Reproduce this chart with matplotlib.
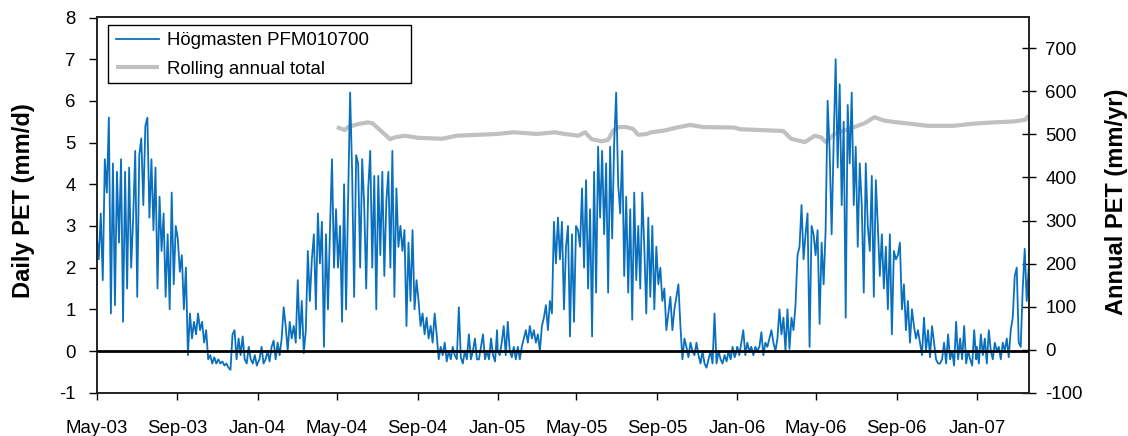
import numpy as np
import pandas as pd
import matplotlib
matplotlib.use("Agg")
import matplotlib.pyplot as plt
from matplotlib.patches import Rectangle

plt.rcParams['font.family'] = ['Liberation Sans', 'DejaVu Sans']

# ---- Daily PET (mm/d), ~3-day resolution ----
pet_2003 = [  # 2003-05-01 .. 2003-12-31
    2.8, 2.2, 3.3, 1.7, 4.6, 3.8, 5.6, 0.9, 4.5, 1.1,
    4.3, 2.6, 4.6, 0.7, 4.3, 1.5, 4.4, 2.0, 3.2, 4.8,
    1.3, 4.7, 5.1, 3.5, 5.4, 5.6, 3.2, 4.6, 2.9, 4.4,
    1.5, 3.7, 2.4, 3.3, 1.3, 2.8, 1.0, 3.8, 1.6, 3.0,
    2.7, 1.9, 2.3, 1.0, 2.0, -0.1, 0.9, 0.3, 0.7, 0.4,
    0.9, 0.5, 0.7, 0.2, 0.5, -0.2, -0.1, -0.3, -0.15, -0.3,
    -0.2, -0.3, -0.25, -0.35, -0.3, -0.4, -0.45, 0.4, 0.5, -0.2,
    0.3, -0.1, 0.35, -0.2, -0.3, 0.1, -0.2, -0.3, -0.1, -0.35]
pet_2004 = [  # 2004-01-01 .. 2004-12-31
    -0.3, -0.2, 0.1, -0.3, -0.2, 0.0, -0.25, 0.1, 0.25, -0.2,
    0.2, -0.1, 0.3, 1.05, 0.6, 0.0, 0.7, 0.3, 0.6, 0.2,
    1.7, 0.3, 1.2, -0.05, 0.5, 2.4, 1.2, 2.2, 2.8, 1.0,
    3.3, 2.1, 3.1, 0.1, 2.8, 1.0, 2.9, 4.6, 2.0, 3.4,
    2.0, 3.0, 0.7, 4.0, 1.0, 3.6, 6.2, 4.3, 1.3, 4.7,
    4.5, 2.0, 4.6, 3.5, 1.5, 3.9, 4.8, 2.0, 4.2, 1.0,
    4.2, 2.3, 4.3, 1.8, 3.6, 4.3, 2.0, 4.8, 1.3, 3.9,
    2.5, 3.0, 2.4, 2.9, 0.6, 2.6, 1.2, 2.9, 1.0, 1.7,
    1.2, 0.6, 0.9, 0.4, 0.8, 0.3, 0.6, 0.2, 0.9, 0.4,
    -0.2, 0.1, -0.1, 0.2, -0.25, 0.0, -0.2, 0.1, -0.1, -0.2,
    1.05, -0.15, -0.3, 0.0, -0.2, 0.4, -0.2, 0.0, 0.3, -0.2,
    -0.2, 0.1, 0.4, -0.2, 0.0, -0.2, 0.3, -0.1, -0.25, 0.5]
pet_2005 = [  # 2005-01-01 .. 2005-12-31
    0.0, -0.1, 0.2, 0.6, -0.1, 0.7, 0.0, -0.15, 0.1, -0.2,
    0.1, -0.2, 0.1, 0.3, 0.5, 0.2, 0.6, 0.3, 0.5, 0.2,
    0.4, 0.0, 0.6, 0.8, 1.1, 0.5, 1.2, 0.9, 3.1, 2.1,
    3.2, 2.2, 3.1, 1.0, 2.5, 3.0, 0.35, 2.8, 0.7, 3.0,
    2.9, 2.5, 3.9, 2.0, 4.1, 1.5, 3.4, 0.35, 4.3, 1.4,
    4.9, 3.2, 4.8, 2.8, 4.5, 1.4, 4.9, 2.7, 5.0, 6.2,
    4.0, 3.3, 4.8, 1.8, 3.7, 1.4, 3.4, 0.75, 3.8, 1.7,
    3.0, 1.5, 3.8, 2.5, 0.9, 3.2, 1.3, 3.0, 1.0, 2.5,
    1.6, 2.0, 1.2, 1.5, 0.5, 0.9, 1.3, 0.5, 1.0, 1.3,
    1.6, 0.6, -0.2, 0.3, 0.1, -0.15, 0.2, 0.0, -0.1, 0.2,
    -0.1, -0.3, 0.0, -0.3, -0.4, -0.2, 0.0, -0.3, 0.9, -0.3,
    0.0, -0.2, -0.3, -0.1, -0.25, 0.0, -0.2, 0.1, -0.15, 0.0]
pet_2006 = [  # 2006-01-01 .. 2006-12-31
    0.1, -0.1, 0.2, 0.5, -0.1, 0.2, 0.0, 0.1, -0.1, 0.1,
    0.0, 0.1, 0.45, -0.1, 0.2, 0.1, 0.3, 0.5, 0.2, 0.0,
    0.3, 1.0, 0.4, 0.8, 0.0, 1.0, 0.05, 0.8, 0.5, 1.1,
    2.3, 2.5, 3.5, 2.2, 2.8, 3.3, 0.1, 3.0, 2.8, 2.3,
    2.9, 0.65, 2.6, 1.6, 2.9, 6.0, 4.8, 2.8, 5.0, 7.0,
    4.4, 6.4, 3.5, 5.5, 0.8, 5.9, 4.5, 6.2, 3.5, 4.9,
    2.5, 4.5, 3.5, 1.4, 4.5, 3.0, 2.4, 4.2, 1.3, 4.1,
    3.0, 1.8, 2.8, 1.5, 2.5, 1.0, 2.8, 0.4, 2.4, 2.2,
    2.3, 2.6, 1.0, 1.6, 0.5, 1.2, 0.2, 1.0, 0.6, 0.3,
    0.5, 0.2, -0.1, 0.8, 0.0, 0.5, -0.15, 0.6, 0.2, -0.2,
    -0.3, -0.3, -0.2, 0.2, -0.3, 0.4, -0.2, 0.0, -0.35, 0.7,
    -0.2, 0.3, -0.2, 0.6, -0.3, 0.0, -0.2, -0.35, 0.5, -0.2]
pet_2007 = [  # 2007-01-01 .. 2007-03-21
    0.1, -0.3, 0.4, -0.1, 0.3, -0.3, 0.5, 0.0, -0.2, 0.2,
    0.0, 0.1, -0.2, 0.2, 0.0, 0.3, -0.15, 0.5, 0.8,
    1.8, 2.0, 0.2, 0.1, 1.5, 2.45, 1.2, 2.0]

segment_starts = ["2003-05-01", "2004-01-01", "2005-01-01", "2006-01-01", "2007-01-01"]
segment_ends = ["2003-12-31", "2004-12-31", "2005-12-31", "2006-12-31", "2007-03-21"]

# ---- Rolling annual total (mm/yr) ----
rolling_dates = [
    "2004-05-01", "2004-05-13", "2004-05-18", "2004-06-02", "2004-06-17", "2004-06-24",
    "2004-07-08", "2004-07-21", "2004-07-28", "2004-08-12", "2004-09-02", "2004-10-08",
    "2004-10-31", "2004-12-31", "2005-01-25", "2005-03-02", "2005-03-29", "2005-04-13",
    "2005-04-24", "2005-05-04", "2005-05-14", "2005-05-24", "2005-06-08", "2005-06-18",
    "2005-06-26", "2005-07-04", "2005-07-16", "2005-07-26", "2005-08-03", "2005-08-16",
    "2005-08-23", "2005-09-12", "2005-09-28", "2005-10-21", "2005-11-11", "2005-12-27",
    "2006-01-06", "2006-03-12", "2006-03-24", "2006-04-14", "2006-04-29", "2006-05-09",
    "2006-05-16", "2006-05-29", "2006-06-13", "2006-06-28", "2006-07-14", "2006-07-29",
    "2006-08-13", "2006-09-02", "2006-09-26", "2006-10-17", "2006-11-27", "2006-12-27",
    "2007-01-27", "2007-02-26", "2007-03-16", "2007-03-21"]
rolling_values = [
    517, 510, 517, 524, 528, 526,
    507, 489, 493, 497, 492, 490,
    497, 501, 505, 501, 505, 501,
    499, 497, 505, 489, 484, 487,
    509, 517, 517, 513, 499, 501,
    505, 509, 515, 522, 517, 516,
    512, 508, 490, 482, 497, 493,
    482, 501, 509, 517, 526, 540,
    532, 528, 524, 520, 520, 525,
    528, 530, 534, 544]

x_tick_dates = pd.date_range("2003-05-01", "2007-01-01", freq="4MS")
left_ticks = list(range(-1, 9))
right_ticks = list(range(-100, 800, 100))

# ---- Build daily series ----
all_dates, all_vals = [], []
for s, e, vals in zip(segment_starts, segment_ends,
                      [pet_2003, pet_2004, pet_2005, pet_2006, pet_2007]):
    t0, t1 = pd.Timestamp(s).value, pd.Timestamp(e).value
    d = pd.to_datetime(np.linspace(t0, t1, len(vals)).astype("int64"))
    all_dates.extend(d)
    all_vals.extend(vals)
pet_dates = pd.DatetimeIndex(all_dates)
pet_vals = np.array(all_vals)

W, H = 1128, 436
fig = plt.figure(figsize=(W / 100, H / 100), dpi=100)
ax = fig.add_axes([96.7 / W, 1 - 392.7 / H, 932 / W, 375.2 / H])
ax2 = ax.twinx()
ax.set_zorder(ax2.get_zorder() + 1)
ax.patch.set_visible(False)

blue = "#0A70BE"
gray = "#C0C0C0"

l1, = ax.plot(pet_dates, pet_vals, color=blue, lw=1.3, zorder=2,
              label="Högmasten PFM010700")
ax.axhline(0, color="black", lw=2.0, zorder=3)
l2, = ax2.plot(pd.to_datetime(rolling_dates), rolling_values, color=gray, lw=3.0,
               solid_capstyle="butt", label="Rolling annual total")

ax.set_xlim(pd.Timestamp("2003-05-01"), pd.Timestamp("2007-03-21"))
ax.set_ylim(-1, 8)
ax2.set_ylim(-100, 771.6)

ax.set_yticks(left_ticks)
ax.set_yticklabels([str(v) for v in left_ticks])
ax2.set_yticks(right_ticks)
ax2.set_yticklabels([str(v) for v in right_ticks])
ax.set_xticks(x_tick_dates)
ax.set_xticklabels([d.strftime("%b-%y") for d in x_tick_dates])

fs = 13.4
ax.tick_params(axis="y", direction="out", length=6, width=1.0, pad=9, labelsize=fs)
ax.tick_params(axis="x", direction="out", length=5, width=1.0, pad=15, labelsize=fs)
ax2.tick_params(axis="y", direction="inout", length=10, width=1.0, pad=7, labelsize=fs)

for a in (ax, ax2):
    for sp in a.spines.values():
        sp.set_linewidth(1.2)
        sp.set_color("#222222")

fig.text(24 / W, 1 - 201 / H, "Daily PET (mm/d)", rotation=90, ha="center",
         va="center", fontsize=17, fontweight="bold")
fig.text(1117 / W, 1 - 202 / H, "Annual PET (mm/yr)", rotation=90, ha="center",
         va="center", fontsize=17, fontweight="bold")

# legend box (Excel-style, wider than its content)
box = Rectangle((108.3 / W, 1 - 83 / H), (410.7 - 108.3) / W, (83 - 25.3) / H,
                transform=fig.transFigure, facecolor="white", edgecolor="black",
                linewidth=1.0, zorder=4)
ax.add_artist(box)
leg = ax.legend(handles=[l1, l2], loc="upper left",
                bbox_to_anchor=((116 - 96.7) / 932, 1 - (32 - 17.5) / 375.2),
                fontsize=13.4, frameon=False, borderaxespad=0, borderpad=0,
                handlelength=2.3, handletextpad=0.45, labelspacing=0.62)
leg.set_zorder(5)

fig.savefig("out.png", dpi=100)
